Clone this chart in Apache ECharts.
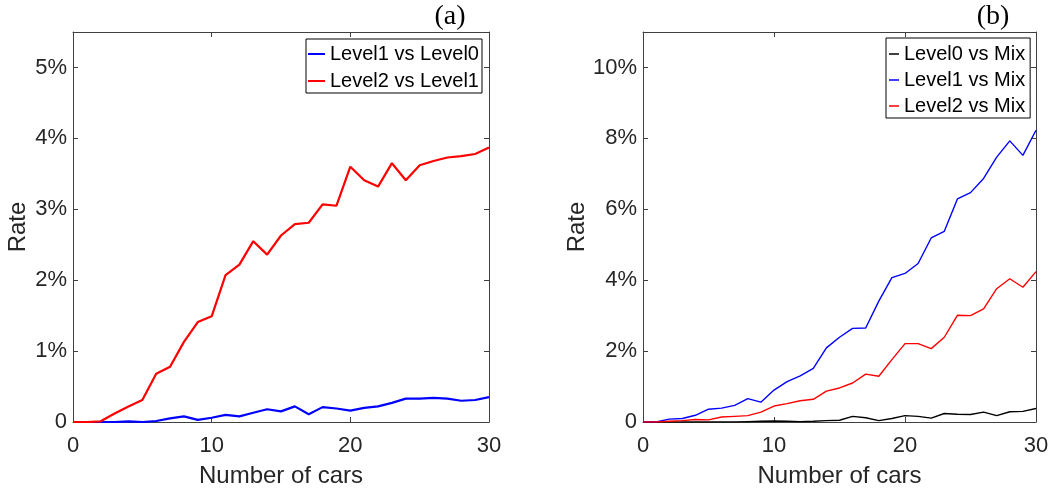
<!DOCTYPE html>
<html>
<head>
<meta charset="utf-8">
<style>
  html, body { margin: 0; padding: 0; background: #fff; }
  #chart { width: 1052px; height: 493px; }
</style>
<script src="https://cdn.jsdelivr.net/npm/echarts@6/dist/echarts.min.js"></script>
</head>
<body>
<div id="chart"></div>
<script>
// Number of cars on the x axis (shared by both panels)
const cars = [0,1,2,3,4,5,6,7,8,9,10,11,12,13,14,15,16,17,18,19,20,21,22,23,24,25,26,27,28,29,30];

// Panel (a): rates in percent
const level1VsLevel0 = [0,0,0,0,0.01,0,0.014,0.05,0.08,0.03,0.06,0.10,0.08,0.13,0.18,0.15,0.22,0.11,0.21,0.19,0.16,0.20,0.22,0.27,0.33,0.33,0.34,0.33,0.30,0.31,0.35];
const level2VsLevel1 = [0,0,0.01,0.12,0.22,0.31,0.68,0.78,1.13,1.41,1.49,2.07,2.22,2.55,2.36,2.63,2.79,2.81,3.07,3.05,3.60,3.41,3.32,3.65,3.41,3.62,3.68,3.73,3.75,3.78,3.87];

// Panel (b): rates in percent
const level0VsMix = [0,0,0,0,0,0,0,0,0.01,0.02,0.03,0.02,0.01,0.02,0.04,0.05,0.16,0.12,0.04,0.10,0.18,0.16,0.11,0.24,0.22,0.21,0.28,0.18,0.29,0.30,0.38];
const level1VsMix = [0,0,0.08,0.10,0.19,0.36,0.39,0.47,0.66,0.56,0.90,1.14,1.30,1.51,2.09,2.39,2.64,2.65,3.41,4.07,4.19,4.47,5.19,5.38,6.29,6.47,6.87,7.47,7.93,7.52,8.23];
const level2VsMix = [0,0,0.02,0.04,0.07,0.06,0.14,0.16,0.18,0.28,0.45,0.52,0.60,0.64,0.87,0.96,1.10,1.35,1.29,1.76,2.21,2.21,2.07,2.39,3.01,3.00,3.19,3.76,4.04,3.80,4.24];

// Tick settings
const xTicks = { min: 0, max: 30, interval: 10 };
const yTicksA = { min: 0, max: 5.5, interval: 1 };
const yTicksB = { min: 0, max: 11, interval: 2 };

const TXT = '#262626';
const AX = '#404040';
const FONT = '"Liberation Sans", Arial, Helvetica, sans-serif';

const pairs = (ys) => cars.map((x, i) => [x, ys[i]]);
// Percent labels on whole tick steps only; the axis end is left unlabeled
const pctLabel = (step) => (v) => {
  const k = v / step;
  if (Math.abs(k - Math.round(k)) > 1e-9) return '';
  return v === 0 ? '0' : v + '%';
};

function bottomX(grid) {
  return {
    type: 'value', gridIndex: grid, position: 'bottom',
    min: xTicks.min, max: xTicks.max, interval: xTicks.interval,
    name: 'Number of cars', nameLocation: 'middle', nameGap: 42,
    nameTextStyle: { color: TXT, fontSize: 24, fontFamily: FONT },
    axisLine: { show: true, lineStyle: { color: AX, width: 1 } },
    axisTick: { show: true, inside: true, length: 5, lineStyle: { color: AX } },
    axisLabel: { color: TXT, fontSize: 22, fontFamily: FONT, margin: 13 },
    splitLine: { show: false }
  };
}
function topX(grid) {
  return {
    type: 'value', gridIndex: grid, position: 'top',
    min: xTicks.min, max: xTicks.max, interval: xTicks.interval,
    axisLine: { show: true, onZero: false, lineStyle: { color: AX, width: 1 } },
    axisTick: { show: true, inside: true, length: 5, lineStyle: { color: AX } },
    axisLabel: { show: false }, splitLine: { show: false }
  };
}
function leftY(grid, t) {
  return {
    type: 'value', gridIndex: grid, position: 'left',
    min: t.min, max: t.max, interval: t.interval,
    name: 'Rate', nameLocation: 'middle', nameGap: 43, nameRotate: 90,
    nameTextStyle: { color: TXT, fontSize: 24, fontFamily: FONT },
    axisLine: { show: true, onZero: false, lineStyle: { color: AX, width: 1 } },
    axisTick: { show: true, inside: true, length: 5, lineStyle: { color: AX } },
    axisLabel: { color: TXT, fontSize: 22, fontFamily: FONT, margin: 6, formatter: pctLabel(t.interval) },
    splitLine: { show: false }
  };
}
function rightY(grid, t) {
  return {
    type: 'value', gridIndex: grid, position: 'right',
    min: t.min, max: t.max, interval: t.interval,
    axisLine: { show: true, onZero: false, lineStyle: { color: AX, width: 1 } },
    axisTick: { show: true, inside: true, length: 5, lineStyle: { color: AX } },
    axisLabel: { show: false }, splitLine: { show: false }
  };
}
function line(name, ys, color, width, xi, yi) {
  return {
    name, type: 'line', xAxisIndex: xi, yAxisIndex: yi,
    data: pairs(ys), showSymbol: false, symbol: 'none',
    lineStyle: { color, width }, itemStyle: { color },
    emphasis: { disabled: true }
  };
}

const chart = echarts.init(document.getElementById('chart'), null, { renderer: 'canvas' });
chart.setOption({
  animation: false,
  backgroundColor: '#fff',
  title: [
    { text: '(a)', left: 445, top: -2, textAlign: 'center',
      textStyle: { fontFamily: '"Liberation Serif", "Times New Roman", serif', fontSize: 28, fontWeight: 'normal', color: '#000' } },
    { text: '(b)', left: 988, top: -2, textAlign: 'center',
      textStyle: { fontFamily: '"Liberation Serif", "Times New Roman", serif', fontSize: 28, fontWeight: 'normal', color: '#000' } }
  ],
  grid: [
    { left: 73, top: 32, width: 416, height: 393 },
    { left: 643, top: 32, width: 393, height: 396 }
  ],
  xAxis: [bottomX(0), topX(0), bottomX(1), topX(1)],
  yAxis: [leftY(0, yTicksA), rightY(0, yTicksA), leftY(1, yTicksB), rightY(1, yTicksB)],
  legend: [
    { data: ['Level1 vs Level0', 'Level2 vs Level1'], orient: 'vertical',
      left: 306, top: 39, padding: [5, 3, 2, 2], itemGap: 7,
      icon: 'rect', itemWidth: 17, itemHeight: 2,
      borderColor: '#000', borderWidth: 1, backgroundColor: '#fff',
      textStyle: { color: '#000', fontSize: 20, fontFamily: FONT } },
    { data: ['Level0 vs Mix', 'Level1 vs Mix', 'Level2 vs Mix'], orient: 'vertical',
      left: 886, top: 38, padding: [6, 5, 2, 3], itemGap: 6,
      icon: 'rect', itemWidth: 10, itemHeight: 1.5,
      borderColor: '#000', borderWidth: 1, backgroundColor: '#fff',
      textStyle: { color: '#000', fontSize: 20, fontFamily: FONT } }
  ],
  series: [
    line('Level1 vs Level0', level1VsLevel0, '#0000ff', 2.2, 0, 0),
    line('Level2 vs Level1', level2VsLevel1, '#ff0000', 2.2, 0, 0),
    line('Level0 vs Mix', level0VsMix, '#000000', 1.4, 2, 2),
    line('Level1 vs Mix', level1VsMix, '#0000ff', 1.4, 2, 2),
    line('Level2 vs Mix', level2VsMix, '#ff0000', 1.4, 2, 2)
  ]
});
</script>
</body>
</html>
